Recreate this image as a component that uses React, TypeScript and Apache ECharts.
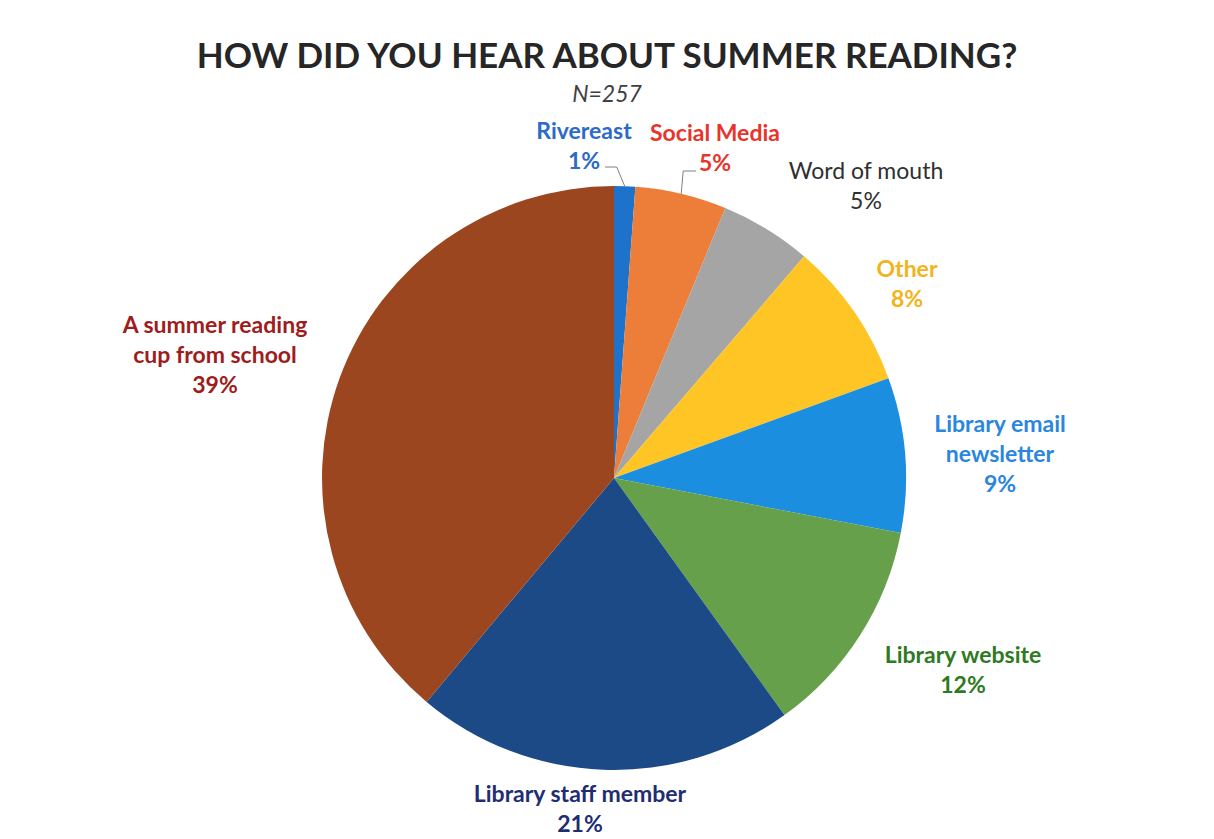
import React, { useEffect, useRef } from "react";
import * as echarts from "echarts";

const TITLE = "HOW DID YOU HEAR ABOUT SUMMER READING?";
const SUBTITLE = "N=257";
const categories = [
  "Rivereast",
  "Social Media",
  "Word of mouth",
  "Other",
  "Library email\nnewsletter",
  "Library website",
  "Library staff member",
  "A summer reading\ncup from school",
];
const counts = [3, 13, 13, 21, 22, 31, 54, 100];
const sliceColors = ["#1F72C9", "#EC7E3A", "#A5A5A5", "#FFC524", "#1B8EE0", "#67A04A", "#1B4A86", "#9C4620"];
const labelColors = ["#2C6BC6", "#E8342B", "#303030", "#F2B31B", "#2A86DF", "#2E7A22", "#1F2D72", "#9E1C1C"];
const labelWeights = ["bold", "bold", "normal", "bold", "bold", "bold", "bold", "bold"];

// layout (style): label block centre offsets from pie centre
const labelOffsets: [number, number][] = [
  [-30, -333],
  [101, -331],
  [252, -293],
  [293, -195],
  [386, -25],
  [349, 191],
  [-34, 330],
  [-399, -124],
];
const withLeader = [true, true, false, false, false, false, false, false];

const CX = 614;
const CY = 478;
const R = 292;

export default function App() {
  const ref = useRef<HTMLDivElement>(null);
  useEffect(() => {
    document.body.style.margin = "0";
    const chart = echarts.init(ref.current!, null, { renderer: "svg" });
    const total = counts.reduce((a, b) => a + b, 0);
    const mids: number[] = [];
    let cum = 0;
    counts.forEach((v) => {
      const a0 = (cum / total) * 2 * Math.PI;
      cum += v;
      const a1 = (cum / total) * 2 * Math.PI;
      mids.push((a0 + a1) / 2);
    });
    chart.setOption({
      animation: false,
      backgroundColor: "#ffffff",
      title: {
        text: TITLE,
        subtext: SUBTITLE,
        left: "center",
        top: 31,
        itemGap: 10,
        textStyle: { fontFamily: "Lato", fontWeight: "bold", fontSize: 35, color: "#262626" },
        subtextStyle: { fontFamily: "Lato", fontStyle: "italic", fontSize: 23, color: "#404040" },
      },
      series: [
        {
          type: "pie",
          center: [CX, CY],
          radius: R,
          startAngle: 90,
          clockwise: true,
          data: categories.map((name, i) => ({
            name,
            value: counts[i],
            itemStyle: { color: sliceColors[i] },
            label: { color: labelColors[i], fontWeight: labelWeights[i] },
            labelLine: { show: withLeader[i] },
          })),
          label: {
            show: true,
            position: "outside",
            fontFamily: "Lato",
            fontWeight: "bold",
            fontSize: 23,
            lineHeight: 30,
            align: "center",
            formatter: (p: any) => `${p.name}\n${Math.round((p.value / total) * 100)}%`,
          },
          labelLine: {
            lineStyle: { color: "#7F7F7F", width: 1 },
          },
          labelLayout: (p: any) => {
            const i = p.dataIndex;
            const [dx, dy] = labelOffsets[i];
            const x = CX + dx;
            const y = CY + dy;
            const res: any = { x, y, align: "center", verticalAlign: "middle" };
            if (withLeader[i]) {
              const a = mids[i];
              const ex = CX + R * Math.sin(a);
              const ey = CY - R * Math.cos(a);
              if (i === 0) {
                res.labelLinePoints = [
                  [x + 21, y + 22],
                  [ex - 8, y + 22],
                  [ex, ey],
                ];
              } else {
                res.labelLinePoints = [
                  [ex, ey],
                  [ex + 2, y + 24],
                  [x - 19, y + 24],
                ];
              }
            }
            return res;
          },
        },
      ],
    });
    return () => chart.dispose();
  }, []);
  return <div ref={ref} style={{ width: 1214, height: 839 }} />;
}
